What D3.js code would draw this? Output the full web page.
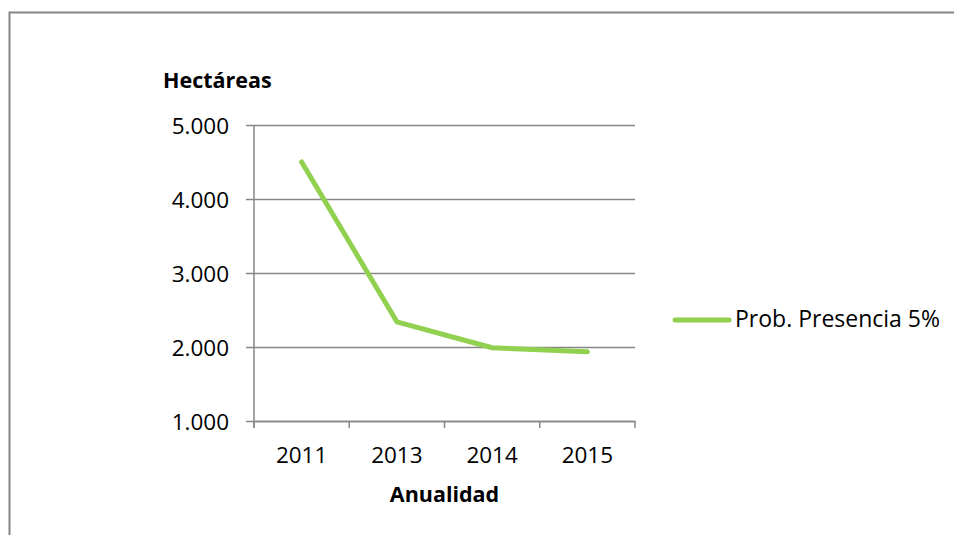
<!DOCTYPE html>
<html>
<head>
<meta charset="utf-8">
<script src="https://cdn.jsdelivr.net/npm/d3@7"></script>
<style>
  html, body { margin: 0; padding: 0; background: #fff; }
  svg { display: block; }
  text { font-family: "Open Sans", sans-serif; fill: #000; }
</style>
</head>
<body>
<svg id="chart" width="954" height="535"></svg>
<script>
const categories = ["2011", "2013", "2014", "2015"];
const values = [4500, 2340, 1990, 1935];
const yTicks = [1000, 2000, 3000, 4000, 5000];
const seriesName = "Prob. Presencia 5%";
const yTitle = "Hectáreas";
const xTitle = "Anualidad";

(function () {
const svg = d3.select("#chart");
const gray = "#868686";

// outer frame (top and left visible)
svg.append("path")
  .attr("d", "M9.5,535 L9.5,12.5 L954,12.5")
  .attr("fill", "none").attr("stroke", gray).attr("stroke-width", 2);

const pLeft = 254, pRight = 635, pTop = 125, pBottom = 421;

const x = d3.scaleBand().domain(categories).range([pLeft, pRight]).padding(0);
const y = d3.scaleLinear().domain([1000, 5000]).range([pBottom, pTop]);

// gridlines + y ticks
const yAxis = d3.axisLeft(y).tickValues(yTicks).tickSize(pRight - pLeft + 8)
  .tickFormat(d => d3.format(",")(d).replace(/,/g, "."));
const gy = svg.append("g").attr("transform", `translate(${pRight},0)`).call(yAxis);
gy.select(".domain").remove();
gy.selectAll(".tick line").attr("stroke", gray).attr("stroke-width", 1.5);
gy.selectAll(".tick text")
  .attr("x", -(pRight - 229))
  .attr("dy", "0.36em")
  .style("font-size", "22.5px")
  .style("font-family", "'Open Sans', sans-serif")
  .attr("fill", "#000");

// y axis vertical line
svg.append("line")
  .attr("x1", pLeft).attr("x2", pLeft).attr("y1", pTop).attr("y2", pBottom + 7)
  .attr("stroke", gray).attr("stroke-width", 1.5);

// x axis
const xAxis = d3.axisBottom(x).tickSize(0).tickSizeOuter(0);
const gx = svg.append("g").attr("transform", `translate(0,${pBottom})`).call(xAxis);
gx.select(".domain").attr("stroke", gray).attr("stroke-width", 1.5);
gx.selectAll(".tick text")
  .attr("y", 0).attr("dy", 42)
  .style("font-size", "22.5px")
  .style("font-family", "'Open Sans', sans-serif")
  .attr("fill", "#000");

// x tick marks at band boundaries
const boundaries = categories.map(c => x(c)).concat([x(categories[categories.length - 1]) + x.bandwidth()]);
svg.append("g").selectAll("line").data(boundaries).join("line")
  .attr("x1", d => d).attr("x2", d => d)
  .attr("y1", pBottom).attr("y2", pBottom + 7)
  .attr("stroke", gray).attr("stroke-width", 1.5);

// series line
const line = d3.line()
  .x((d, i) => x(categories[i]) + x.bandwidth() / 2)
  .y(d => y(d));
svg.append("path")
  .datum(values)
  .attr("d", line)
  .attr("fill", "none")
  .attr("stroke", "#92D050")
  .attr("stroke-width", 5)
  .attr("stroke-linejoin", "round")
  .attr("stroke-linecap", "round");

// titles
svg.append("text")
  .attr("x", 163).attr("y", 88)
  .style("font-size", "21.5px").style("font-weight", "bold")
  .text(yTitle);
svg.append("text")
  .attr("x", (pLeft + pRight) / 2).attr("y", 502)
  .attr("text-anchor", "middle")
  .style("font-size", "21.5px").style("font-weight", "bold")
  .text(xTitle);

// legend
const lg = svg.append("g");
lg.append("line")
  .attr("x1", 675).attr("x2", 729).attr("y1", 320).attr("y2", 320)
  .attr("stroke", "#92D050").attr("stroke-width", 5).attr("stroke-linecap", "round");
lg.append("text")
  .attr("x", 735).attr("y", 327)
  .style("font-size", "23px")
  .text(seriesName);
})();
</script>
</body>
</html>
